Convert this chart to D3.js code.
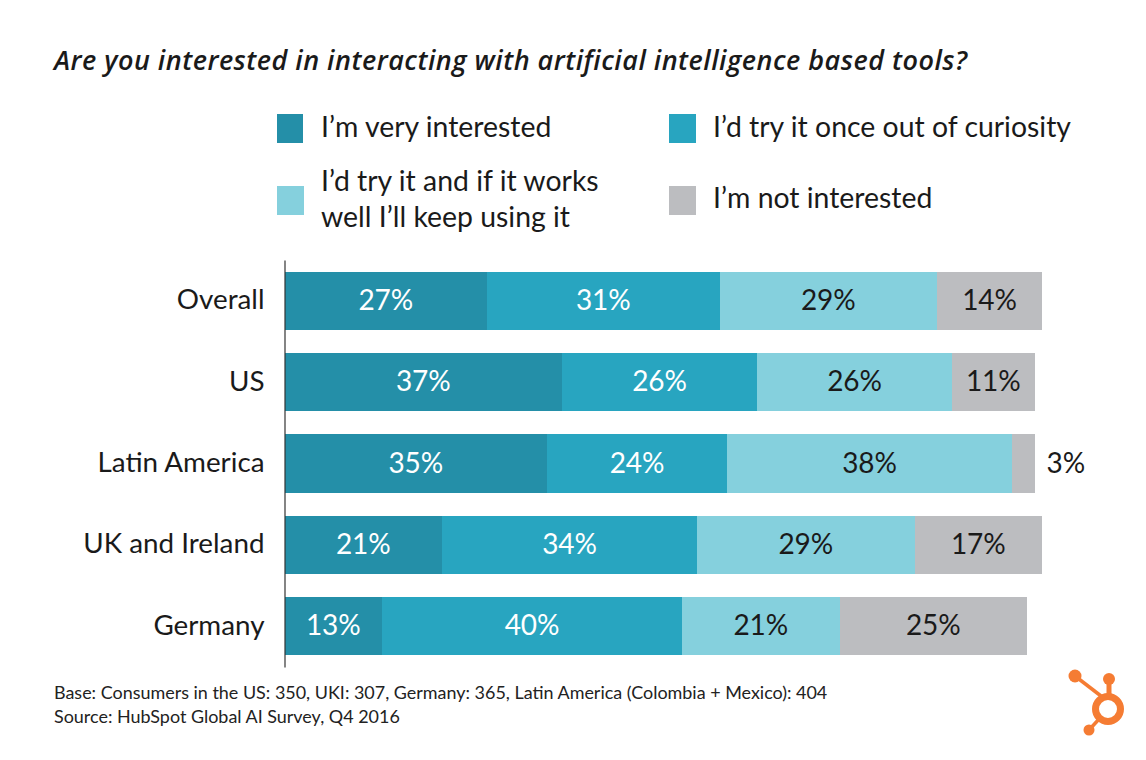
<!DOCTYPE html>
<html>
<head>
<meta charset="utf-8">
<script src="https://cdn.jsdelivr.net/npm/d3@7"></script>
<style>
  body { margin: 0; background: #fff; }
  svg { display: block; font-family: 'Lato', sans-serif; }
</style>
</head>
<body>
<svg width="1146" height="760"></svg>
<script>
const regions = ['Overall', 'US', 'Latin America', 'UK and Ireland', 'Germany'];
const seriesKeys = ['very', 'once', 'keep', 'not'];
const veryInterested = [27, 37, 35, 21, 13];
const onceCuriosity = [31, 26, 24, 34, 40];
const keepUsing = [29, 26, 38, 29, 21];
const notInterested = [14, 11, 3, 17, 25];
const seriesColors = ['#248fa8', '#28a5c0', '#85d0dd', '#bcbdc0'];
const labelColors = ['#fff', '#fff', '#1a1a1a', '#1a1a1a'];

const svg = d3.select('svg');

// table for the stack
const rows = regions.map((r, i) => ({
  region: r,
  very: veryInterested[i],
  once: onceCuriosity[i],
  keep: keepUsing[i],
  not: notInterested[i],
}));
const stacked = d3.stack().keys(seriesKeys)(rows);

const x = d3.scaleLinear().domain([0, 100]).range([284.6, 1034.6]);
const y = d3.scaleBand().domain(regions).range([260, 667]).paddingInner(0.285).paddingOuter(0.145);

svg.append('text')
  .attr('x', 54).attr('y', 70)
  .attr('font-family', "'Open Sans', sans-serif")
  .attr('font-size', 27).attr('font-weight', 600).attr('font-style', 'italic')
  .attr('letter-spacing', 0.48)
  .attr('fill', '#1a1a1a')
  .text('Are you interested in interacting with artificial intelligence based tools?');

// legend
const legend = [
  { c: 0, x: 277, y: 114, w: 26, h: 29, lines: ['I\u2019m very interested'], ty: [137] },
  { c: 1, x: 669, y: 114, w: 27, h: 29, lines: ['I\u2019d try it once out of curiosity'], ty: [137] },
  { c: 2, x: 277, y: 186, w: 27, h: 29, lines: ['I\u2019d try it and if it works', 'well I\u2019ll keep using it'], ty: [191, 227] },
  { c: 3, x: 669, y: 186, w: 27, h: 29, lines: ['I\u2019m not interested'], ty: [208] },
];
legend.forEach((d) => {
  svg.append('rect').attr('x', d.x).attr('y', d.y).attr('width', d.w).attr('height', d.h)
    .attr('fill', seriesColors[d.c]);
  d.lines.forEach((t, i) => {
    svg.append('text')
      .attr('x', d.c % 2 ? 713 : 321).attr('y', d.ty[i])
      .attr('font-size', 28.4).attr('fill', '#1a1a1a')
      .text(t);
  });
});

// bars
const groups = svg.selectAll('g.series').data(stacked).enter().append('g')
  .attr('class', 'series')
  .attr('fill', (d, i) => seriesColors[i]);
groups.selectAll('rect').data((d) => d).enter().append('rect')
  .attr('x', (d) => x(d[0]))
  .attr('y', (d) => y(d.data.region))
  .attr('width', (d) => x(d[1]) - x(d[0]))
  .attr('height', y.bandwidth())
  .attr('shape-rendering', 'crispEdges');

// value labels, the small slice gets its label outside the bar
groups.each(function (s, i) {
  d3.select(this).selectAll('text').data(s).enter().append('text')
    .attr('x', (d) => (d[1] - d[0] < 5 ? x(d[1]) + 12 : x((d[0] + d[1]) / 2)))
    .attr('y', (d) => y(d.data.region) + y.bandwidth() / 2 + 9)
    .attr('text-anchor', (d) => (d[1] - d[0] < 5 ? 'start' : 'middle'))
    .attr('font-size', 28)
    .attr('fill', (d) => (d[1] - d[0] < 5 ? '#1a1a1a' : labelColors[i]))
    .text((d) => d[1] - d[0] + '%');
});

// category axis
const axis = svg.append('g')
  .attr('transform', 'translate(284.5,0)')
  .call(d3.axisLeft(y).tickSize(0).tickPadding(20));
axis.select('.domain').attr('stroke', '#333').attr('stroke-width', 1.2);
axis.selectAll('text')
  .attr('font-size', 27.8).attr('font-family', 'Lato, sans-serif').attr('fill', '#1a1a1a')
  .attr('dy', '0.31em');

// footnotes
const notes = ['Base: Consumers in the US: 350, UKI: 307, Germany: 365, Latin America (Colombia + Mexico): 404',
  'Source: HubSpot Global AI Survey, Q4 2016'];
svg.selectAll('text.note').data(notes).enter().append('text')
  .attr('class', 'note')
  .attr('x', 54).attr('y', (d, i) => 699 + i * 24)
  .attr('font-size', 17.95).attr('fill', '#222')
  .text((d) => d);

// logo
const logo = svg.append('g').attr('stroke', '#f57c33').attr('fill', '#f57c33');
logo.append('circle').attr('cx', 1108).attr('cy', 709).attr('r', 12.5).attr('fill', 'none').attr('stroke-width', 7);
logo.append('line').attr('x1', 1075).attr('y1', 676).attr('x2', 1101).attr('y2', 696).attr('stroke-width', 3.5);
logo.append('line').attr('x1', 1109).attr('y1', 679).attr('x2', 1109).attr('y2', 696).attr('stroke-width', 5);
logo.append('line').attr('x1', 1089).attr('y1', 730).attr('x2', 1100).attr('y2', 718).attr('stroke-width', 3.5);
logo.append('circle').attr('cx', 1075).attr('cy', 676).attr('r', 6.5).attr('stroke', 'none');
logo.append('circle').attr('cx', 1109).attr('cy', 679).attr('r', 6).attr('stroke', 'none');
logo.append('circle').attr('cx', 1089).attr('cy', 730).attr('r', 5.5).attr('stroke', 'none');
</script>
</body>
</html>
